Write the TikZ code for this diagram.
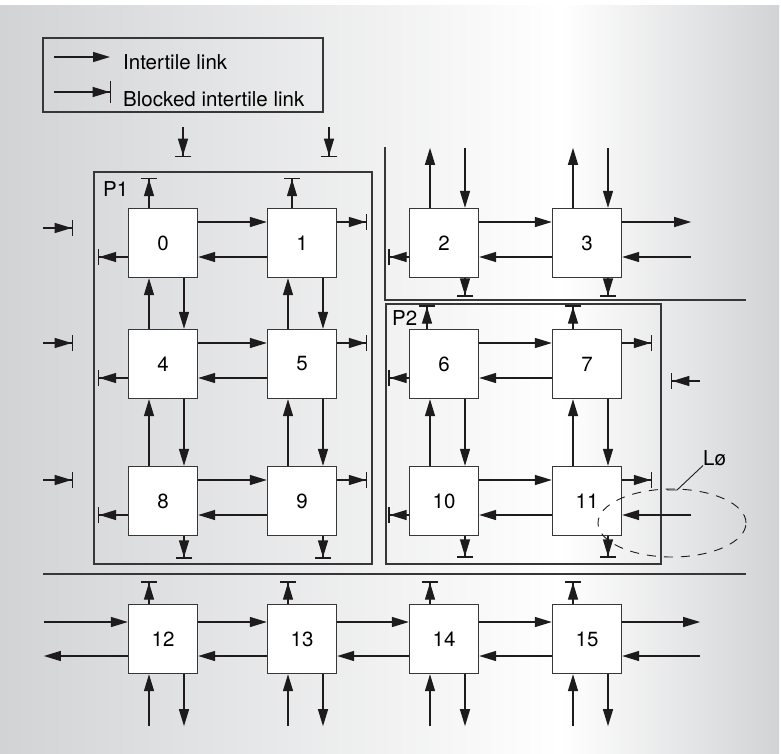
\documentclass[tikz,border=0pt]{standalone}
\usepackage{fontspec}
\setmainfont{TeX Gyre Heros}
\usepackage{tikz}
\usetikzlibrary{arrows.meta,positioning,calc}
\definecolor{panelgray}{RGB}{210,211,213}
\definecolor{inkgray}{RGB}{30,27,28}
\definecolor{framegray}{RGB}{55,55,57}
\pgfdeclarehorizontalshading{panelshade}{100bp}{color(0bp)=(panelgray); color(25bp)=(panelgray); color(61bp)=(white); color(75bp)=(panelgray); color(100bp)=(panelgray)}

\tikzset{
  tile/.style={draw=framegray, fill=white, line width=1.35pt, minimum size=69pt, inner sep=0pt},
  link/.style={draw=inkgray, line width=1.35pt, -{Triangle[length=17pt,width=10pt]}},
  blocked/.style={draw=inkgray, line width=1.35pt, -{Triangle[length=17pt,width=10pt,sep=0pt]Bar[width=#1]}},
  blocked/.default=16pt,
  part/.style={draw=framegray, line width=1.1pt},
  divider/.style={draw=framegray, line width=1.5pt},
  tag/.style={inner sep=0pt}
}

\begin{document}
\begin{tikzpicture}[x=1pt, y=-1pt, font=\fontsize{20.5}{24}\selectfont]
            \useasboundingbox (0,0) rectangle (781,753);
            \fill[white] (0,0) rectangle (781,753);
            \shade[shading=panelshade] (0,5) rectangle (779,753);

            % legend
            \draw[part] (43,38) rectangle (323,112);
            \node[tag, anchor=base west] (lgone) at (123,69.5) {Intertile link};
            \node[tag, anchor=base west] (lgtwo) at (123,106) {Blocked intertile link};
            \draw[link] (54,57) -- (110,57);
            \draw[blocked=22pt] (54,92) -- (111,92);

            % dividers and partitions
            \draw[divider] (385,147) -- (385,300) -- (746,300);
            \draw[divider] (43,574) -- (746,574);
            \draw[part] (94,172) rectangle (372,564);
            \node[tag, anchor=north west] (pone) at (103,181) {P1};
            \draw[part] (386,304) rectangle (661,564);
            \node[tag, anchor=north west] (ptwo) at (392,310) {P2};

            % tiles
            \node[tile] (t0) at (163,243) {0};
            \node[tile] (t1) at (302,243) {1};
            \node[tile] (t2) at (444,243) {2};
            \node[tile] (t3) at (587,243) {3};
            \node[tile] (t4) at (163,364) {4};
            \node[tile] (t5) at (302,364) {5};
            \node[tile] (t6) at (444,364) {6};
            \node[tile] (t7) at (587,364) {7};
            \node[tile] (t8) at (163,501) {8};
            \node[tile] (t9) at (302,501) {9};
            \node[tile] (t10) at (444,501) {10};
            \node[tile] (t11) at (587,501) {11};
            \node[tile] (t12) at (163,639) {12};
            \node[tile] (t13) at (302,639) {13};
            \node[tile] (t14) at (444,639) {14};
            \node[tile] (t15) at (587,639) {15};

            % P1
            \draw[link] ([yshift=21pt]t0.east) -- ([yshift=21pt]t1.west);
            \draw[link] ([yshift=-14pt]t1.west) -- ([yshift=-14pt]t0.east);
            \draw[link] ([yshift=21pt]t4.east) -- ([yshift=21pt]t5.west);
            \draw[link] ([yshift=-14pt]t5.west) -- ([yshift=-14pt]t4.east);
            \draw[link] ([yshift=21pt]t8.east) -- ([yshift=21pt]t9.west);
            \draw[link] ([yshift=-14pt]t9.west) -- ([yshift=-14pt]t8.east);
            \draw[link] ([xshift=21pt]t0.south) -- ([xshift=21pt]t4.north);
            \draw[link] ([xshift=-14pt]t4.north) -- ([xshift=-14pt]t0.south);
            \draw[link] ([xshift=21pt]t4.south) -- ([xshift=21pt]t8.north);
            \draw[link] ([xshift=-14pt]t8.north) -- ([xshift=-14pt]t4.south);
            \draw[link] ([xshift=21pt]t1.south) -- ([xshift=21pt]t5.north);
            \draw[link] ([xshift=-14pt]t5.north) -- ([xshift=-14pt]t1.south);
            \draw[link] ([xshift=21pt]t5.south) -- ([xshift=21pt]t9.north);
            \draw[link] ([xshift=-14pt]t9.north) -- ([xshift=-14pt]t5.south);
            \draw[blocked] ([xshift=-14pt]t0.north) -- ++(0,-30);
            \draw[blocked] ([xshift=-10pt]t1.north) -- ++(0,-30);
            \draw[blocked] ([yshift=-14pt]t0.west) -- ++(-30,0);
            \draw[blocked] ([yshift=-14pt]t4.west) -- ++(-30,0);
            \draw[blocked] ([yshift=-14pt]t8.west) -- ++(-30,0);
            \draw[blocked] ([yshift=21pt]t1.east) -- ++(30,0);
            \draw[blocked] ([yshift=21pt]t5.east) -- ++(30,0);
            \draw[blocked] ([yshift=21pt]t9.east) -- ++(30,0);
            \draw[blocked] ([xshift=21pt]t8.south) -- ++(0,22.5);
            \draw[blocked] ([xshift=21pt]t9.south) -- ++(0,22.5);
            \draw[blocked] (43,228) -- (73,228);
            \draw[blocked] (43,343) -- (73,343);
            \draw[blocked] (43,480) -- (73,480);
            \draw[blocked] (183,127) -- (183,157);
            \draw[blocked] (329,127) -- (329,157);

            % top right
            \draw[link] ([yshift=21pt]t2.east) -- ([yshift=21pt]t3.west);
            \draw[link] ([yshift=-14pt]t3.west) -- ([yshift=-14pt]t2.east);
            \draw[link] ([xshift=-14pt]t2.north) -- ++(0,-60);
            \draw[link] ([xshift=21pt,yshift=60pt]t2.north) -- ([xshift=21pt]t2.north);
            \draw[link] ([xshift=-14pt]t3.north) -- ++(0,-60);
            \draw[link] ([xshift=21pt,yshift=60pt]t3.north) -- ([xshift=21pt]t3.north);
            \draw[link] ([yshift=21pt]t3.east) -- ++(69,0);
            \draw[link] ([xshift=69pt,yshift=-14pt]t3.east) -- ([yshift=-14pt]t3.east);
            \draw[blocked] ([yshift=-14pt]t2.west) -- ++(-20.5,0);
            \draw[blocked] ([xshift=21pt]t2.south) -- ++(0,18.5);
            \draw[blocked] ([xshift=21pt]t3.south) -- ++(0,18.5);

            % P2
            \draw[link] ([yshift=21pt]t6.east) -- ([yshift=21pt]t7.west);
            \draw[link] ([yshift=-14pt]t7.west) -- ([yshift=-14pt]t6.east);
            \draw[link] ([yshift=21pt]t10.east) -- ([yshift=21pt]t11.west);
            \draw[link] ([yshift=-14pt]t11.west) -- ([yshift=-14pt]t10.east);
            \draw[link] ([xshift=21pt]t6.south) -- ([xshift=21pt]t10.north);
            \draw[link] ([xshift=-14pt]t10.north) -- ([xshift=-14pt]t6.south);
            \draw[link] ([xshift=21pt]t7.south) -- ([xshift=21pt]t11.north);
            \draw[link] ([xshift=-14pt]t11.north) -- ([xshift=-14pt]t7.south);
            \draw[blocked] ([xshift=-17pt]t6.north) -- ++(0,-23.5);
            \draw[blocked] ([xshift=-14pt]t7.north) -- ++(0,-23.5);
            \draw[blocked] ([yshift=-14pt]t6.west) -- ++(-20.5,0);
            \draw[blocked] ([yshift=-14pt]t10.west) -- ++(-20.5,0);
            \draw[blocked] ([yshift=21pt]t7.east) -- ++(30,0);
            \draw[blocked] ([yshift=21pt]t11.east) -- ++(30,0);
            \draw[blocked] ([xshift=21pt]t10.south) -- ++(0,21.5);
            \draw[blocked] ([xshift=21pt]t11.south) -- ++(0,21.5);
            \draw[link] ([xshift=69pt,yshift=-14pt]t11.east) -- ([yshift=-14pt]t11.east);
            \draw[blocked] (700,381) -- (671,381);

            % L0 loop
            \draw[inkgray, line width=0.9pt, dash pattern=on 9pt off 8pt] (672,523) ellipse [x radius=74pt, y radius=34pt];
            \node[tag, anchor=base west] (loop) at (703,465) {Lø};
            \draw[inkgray, line width=0.9pt] (667,490) -- (677,490) -- (loop.south west);

            % bottom row
            \draw[link] ([xshift=-84pt,yshift=17pt]t12.west) -- ([yshift=17pt]t12.west);
            \draw[link] ([yshift=-17pt]t12.west) -- ++(-84,0);
            \draw[link] ([yshift=17pt]t12.east) -- ([yshift=17pt]t13.west);
            \draw[link] ([yshift=-17pt]t13.west) -- ([yshift=-17pt]t12.east);
            \draw[link] ([yshift=17pt]t13.east) -- ([yshift=17pt]t14.west);
            \draw[link] ([yshift=-17pt]t14.west) -- ([yshift=-17pt]t13.east);
            \draw[link] ([yshift=17pt]t14.east) -- ([yshift=17pt]t15.west);
            \draw[link] ([yshift=-17pt]t15.west) -- ([yshift=-17pt]t14.east);
            \draw[link] ([yshift=17pt]t15.east) -- ++(78,0);
            \draw[link] ([xshift=78pt,yshift=-17pt]t15.east) -- ([yshift=-17pt]t15.east);
            \draw[blocked] ([xshift=-14pt]t12.north) -- ++(0,-22.5);
            \draw[blocked] ([xshift=-14pt]t13.north) -- ++(0,-22.5);
            \draw[blocked] ([xshift=-14pt]t14.north) -- ++(0,-22.5);
            \draw[blocked] ([xshift=-14pt]t15.north) -- ++(0,-22.5);
            \draw[link] ([xshift=-14pt,yshift=-52pt]t12.south) -- ([xshift=-14pt]t12.south);
            \draw[link] ([xshift=21pt]t12.south) -- ++(0,52);
            \draw[link] ([xshift=-14pt,yshift=-52pt]t13.south) -- ([xshift=-14pt]t13.south);
            \draw[link] ([xshift=21pt]t13.south) -- ++(0,52);
            \draw[link] ([xshift=-14pt,yshift=-52pt]t14.south) -- ([xshift=-14pt]t14.south);
            \draw[link] ([xshift=21pt]t14.south) -- ++(0,52);
            \draw[link] ([xshift=-14pt,yshift=-52pt]t15.south) -- ([xshift=-14pt]t15.south);
            \draw[link] ([xshift=21pt]t15.south) -- ++(0,52);
\end{tikzpicture}
\end{document}
